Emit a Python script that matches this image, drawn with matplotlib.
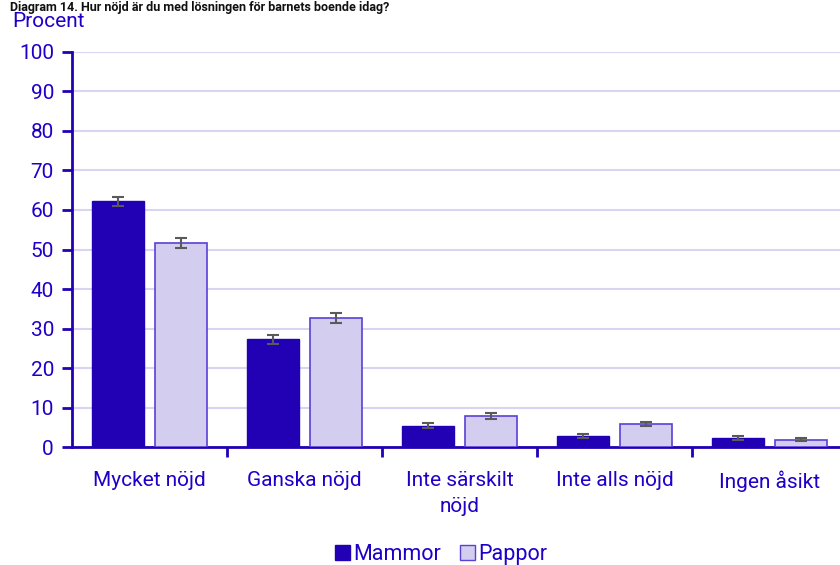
import numpy as np
import matplotlib
matplotlib.use("Agg")
import matplotlib.pyplot as plt
from matplotlib.patches import Patch

plt.rcParams['font.family'] = ['Roboto', 'DejaVu Sans']

# data
categories = ["Mycket nöjd", "Ganska nöjd", "Inte särskilt\nnöjd", "Inte alls nöjd", "Ingen åsikt"]
mammor = [62.2, 27.3, 5.4, 2.7, 2.2]
pappor = [51.7, 32.7, 7.9, 5.8, 1.9]
mammor_err = [1.2, 1.1, 0.6, 0.5, 0.5]
pappor_err = [1.2, 1.2, 0.7, 0.6, 0.5]
yticks = [0, 10, 20, 30, 40, 50, 60, 70, 80, 90, 100]

text_col = "#1f00c8"
dark = "#2200b4"
light = "#d3cdf0"
fs = 15

fig = plt.figure(figsize=(8.4, 5.65), dpi=100)
ax = fig.add_axes([0.0857, 0.2088, 0.9143, 0.6992])

x = np.arange(len(categories))
w = 0.34
off = 0.203
errkw = dict(ecolor="#5a5a5a", elinewidth=1.5, capsize=4.3, capthick=1.5)
ax.bar(x - off, mammor, w, color=dark, edgecolor=dark, linewidth=1,
       yerr=mammor_err, error_kw=errkw, zorder=3)
ax.bar(x + off, pappor, w, color=light, edgecolor="#5b3fd6", linewidth=1.2,
       yerr=pappor_err, error_kw=errkw, zorder=3)

ax.set_xlim(-0.5, 4.455)
ax.set_ylim(0, 100)
ax.set_yticks(yticks)
ax.yaxis.grid(True, color="#d8d5f2", linewidth=1.5, zorder=0)
ax.set_axisbelow(True)

for s in ["top", "right"]:
    ax.spines[s].set_visible(False)
for s in ["left", "bottom"]:
    ax.spines[s].set_color(dark)
    ax.spines[s].set_linewidth(2)

ax.tick_params(axis="y", length=7, width=2, color=dark, labelcolor=text_col, labelsize=fs, pad=6)
ax.set_xticks(x)
ax.set_xticklabels(categories, color=text_col, fontsize=fs, linespacing=1.5)
ax.tick_params(axis="x", length=0, pad=17)
ax.set_xticks(np.arange(len(categories) - 1) + 0.5, minor=True)
ax.tick_params(axis="x", which="minor", length=7, width=2, color=dark)

fig.text(0.012, 0.999, "Diagram 14. Hur nöjd är du med lösningen för barnets boende idag?",
         fontsize=9, fontweight="bold", color="#111111", va="top", ha="left")
fig.text(0.014, 0.962, "Procent", fontsize=fs, color=text_col, va="center", ha="left")

handles = [Patch(facecolor=dark, edgecolor=dark, label="Mammor"),
           Patch(facecolor=light, edgecolor="#5b3fd6", label="Pappor")]
leg = fig.legend(handles=handles, loc="center", bbox_to_anchor=(0.525, 0.018), ncol=2,
                 frameon=False, fontsize=15.5, handlelength=0.7, handleheight=0.7,
                 handletextpad=0.15, columnspacing=0.9, borderpad=0)
for t in leg.get_texts():
    t.set_color(text_col)

fig.savefig("out.png", dpi=100)
